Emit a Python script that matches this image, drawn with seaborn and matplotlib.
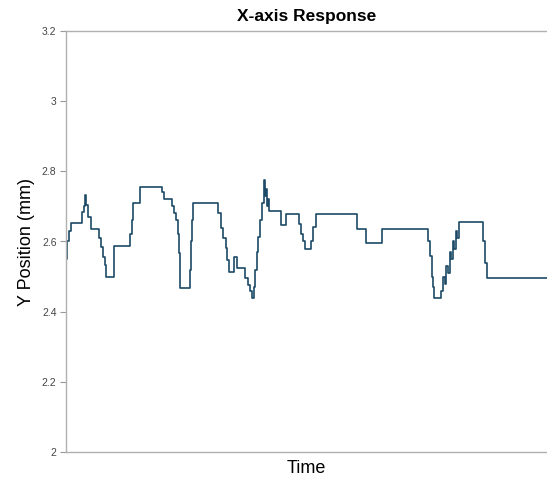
import numpy as np
import pandas as pd
import matplotlib
matplotlib.use('Agg')
import matplotlib.pyplot as plt
import seaborn as sns

# step response samples (time in arbitrary sample units)
time = [0, 1, 3, 5, 16, 18, 19, 20, 22, 25, 33, 35, 37, 39, 40, 48, 64, 66, 67, 74,
        96, 98, 106, 108, 110, 112, 113, 114, 124, 125, 126, 127, 152, 155, 157, 160, 161, 163, 168, 171,
        179, 182, 184, 186, 188, 189, 191, 192, 194, 196, 198, 199, 200, 201, 202, 203, 215, 220, 233, 235,
        237, 239, 245, 247, 250, 291, 300, 316, 362, 364, 366, 367, 368, 375, 377, 379, 380, 382, 384, 385,
        387, 388, 390, 391, 393, 417, 419, 421, 481]
y_pos = [2.55, 2.60, 2.63, 2.653, 2.684, 2.70, 2.733, 2.704, 2.67, 2.636,
         2.61, 2.584, 2.555, 2.533, 2.499, 2.587, 2.62, 2.661, 2.71, 2.755,
         2.74, 2.721, 2.70, 2.68, 2.661, 2.62, 2.567, 2.468, 2.52, 2.60,
         2.66, 2.71, 2.681, 2.639, 2.61, 2.582, 2.547, 2.513, 2.556, 2.525,
         2.496, 2.476, 2.46, 2.439, 2.47, 2.52, 2.57, 2.613, 2.66, 2.71,
         2.775, 2.73, 2.75, 2.70, 2.72, 2.687, 2.647, 2.678, 2.65, 2.62,
         2.60, 2.579, 2.60, 2.64, 2.678, 2.636, 2.596, 2.636, 2.60, 2.56,
         2.50, 2.47, 2.439, 2.46, 2.50, 2.48, 2.53, 2.51, 2.57, 2.55,
         2.60, 2.58, 2.63, 2.61, 2.656, 2.60, 2.54, 2.496, 2.496]
y_ticks = [2, 2.2, 2.4, 2.6, 2.8, 3, 3.2]

df = pd.DataFrame({'Time': time, 'Y': y_pos})

sns.set_style('white')
plt.rcParams['font.family'] = ['Liberation Sans', 'DejaVu Sans']

fig = plt.figure(figsize=(5.47, 4.83), dpi=100)
ax = fig.add_axes([0.121, 0.064, 0.879, 0.872])
sns.lineplot(data=df, x='Time', y='Y', ax=ax, color='#1d4a66', linewidth=1.2,
             drawstyle='steps-post', sort=False)

ax.set_xlim(0, 481)
ax.set_ylim(2, 3.2)
ax.set_xticks([])
ax.set_yticks(y_ticks)
ax.set_yticklabels(['%g' % t for t in y_ticks])
ax.tick_params(axis='y', length=4, width=0.8, color='#999999', labelsize=7.5,
               labelcolor='#444444', pad=3, left=True)
for s in ['left', 'bottom', 'top']:
    ax.spines[s].set_color('#b0b0b0')
    ax.spines[s].set_linewidth(1)
ax.spines['right'].set_visible(False)

ax.set_title('X-axis Response', fontsize=12.5, fontweight='bold', pad=7, color='black')
ax.set_xlabel('Time', fontsize=13, labelpad=6, color='black')
ax.set_ylabel('Y Position (mm)', fontsize=13, labelpad=5, color='black')

fig.savefig('out.png', dpi=100)
